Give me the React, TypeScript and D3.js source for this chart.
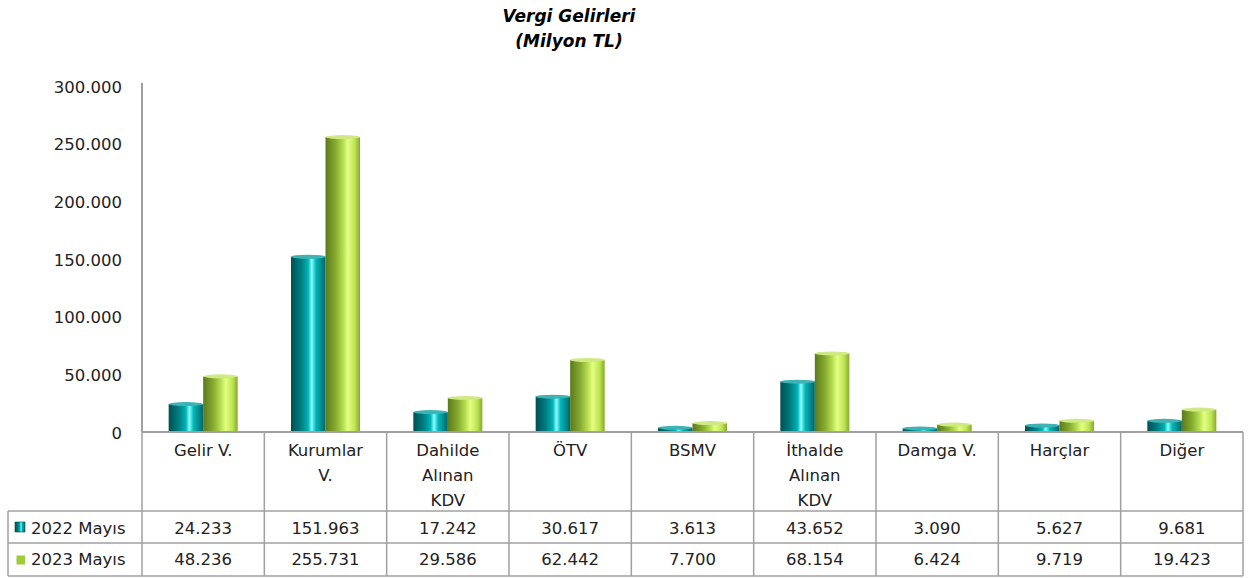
import React from "react";
import * as d3 from "d3";

const categories = [
  ["Gelir V."],
  ["Kurumlar", "V."],
  ["Dahilde", "Alınan", "KDV"],
  ["ÖTV"],
  ["BSMV"],
  ["İthalde", "Alınan", "KDV"],
  ["Damga V."],
  ["Harçlar"],
  ["Diğer"],
];
const series2022 = [24233, 151963, 17242, 30617, 3613, 43652, 3090, 5627, 9681];
const series2023 = [48236, 255731, 29586, 62442, 7700, 68154, 6424, 9719, 19423];
const seriesNames = ["2022 Mayıs", "2023 Mayıs"];
const yTicks = [0, 50000, 100000, 150000, 200000, 250000, 300000];

const W = 1248, H = 578;
const plotL = 142, plotR = 1243, plotT = 86, plotB = 432;
const tableL = 8;
const headerB = 511, row1B = 543, row2B = 576;
const FONT = "'DejaVu Sans', 'Noto Sans', sans-serif";
const FS = 16.5;

const fmt = (v: number) => d3.format(",")(v).replace(/,/g, ".");

export default function App() {
  const x = d3.scaleBand<number>().domain(d3.range(categories.length)).range([plotL, plotR]).padding(0);
  const y = d3.scaleLinear().domain([0, 300000]).range([plotB, plotT]);
  const bw = 34.5;
  const gap = 0;
  const seriesData = [series2022, series2023];
  const fills = ["url(#gTeal)", "url(#gGreen)"];
  const tops = ["#3fb2b3", "#cfea84"];
  const ry = 2;

  return (
    <svg width={W} height={H} style={{ display: "block", position: "absolute", left: 0, top: 0 }} fontFamily={FONT}>
      <defs>
        <linearGradient id="gTeal" x1="0" x2="1" y1="0" y2="0">
          <stop offset="0%" stopColor="#004f52" />
          <stop offset="30%" stopColor="#007f82" />
          <stop offset="50%" stopColor="#00b4b6" />
          <stop offset="60%" stopColor="#8affff" />
          <stop offset="72%" stopColor="#00b7b9" />
          <stop offset="100%" stopColor="#006567" />
        </linearGradient>
        <linearGradient id="gGreen" x1="0" x2="1" y1="0" y2="0">
          <stop offset="0%" stopColor="#5a7a1c" />
          <stop offset="30%" stopColor="#88ac30" />
          <stop offset="50%" stopColor="#b4dc50" />
          <stop offset="65%" stopColor="#e4ff80" />
          <stop offset="85%" stopColor="#bde455" />
          <stop offset="100%" stopColor="#86aa2e" />
        </linearGradient>
      </defs>
      <rect width={W} height={H} fill="#fff" />
      <text x={569} y={22} textAnchor="middle" fontSize={17} fontWeight="bold" fontStyle="italic" fill="#000">Vergi Gelirleri</text>
      <text x={569} y={47} textAnchor="middle" fontSize={17} fontWeight="bold" fontStyle="italic" fill="#000">(Milyon TL)</text>

      {yTicks.map((t) => (
        <text key={t} x={122} y={y(t) + 6.5} textAnchor="end" fontSize={FS} fill="#222">{fmt(t)}</text>
      ))}

      {seriesData.map((arr, si) =>
        arr.map((v, i) => {
          const cx = (x(i) as number) + x.bandwidth() / 2;
          const bx = si === 0 ? cx - gap - bw : cx + gap;
          const yt = y(v);
          return (
            <g key={`${si}-${i}`}>
              <rect x={bx} y={yt} width={bw} height={plotB - yt} fill={fills[si]} />
              <ellipse cx={bx + bw / 2} cy={yt} rx={bw / 2} ry={ry} fill={tops[si]} />
            </g>
          );
        })
      )}

      <line x1={plotL} x2={plotL} y1={plotT - 3} y2={plotB} stroke="#a0a0a0" strokeWidth={2} />
      <line x1={plotL} x2={plotR} y1={plotB} y2={plotB} stroke="#a0a0a0" strokeWidth={2} />

      {d3.range(categories.length + 1).map((i) => {
        const xx = i === categories.length ? plotR : (x(i) as number);
        return <line key={i} x1={xx} x2={xx} y1={plotB} y2={row2B} stroke="#a0a0a0" strokeWidth={1.5} />;
      })}
      <line x1={tableL} x2={tableL} y1={headerB} y2={row2B} stroke="#a0a0a0" strokeWidth={1.5} />
      {[headerB, row1B, row2B].map((yy) => (
        <line key={yy} x1={tableL} x2={plotR} y1={yy} y2={yy} stroke="#a0a0a0" strokeWidth={1.5} />
      ))}

      {categories.map((lines, i) => {
        const cx = (x(i) as number) + x.bandwidth() / 2;
        return lines.map((ln, j) => (
          <text key={`${i}-${j}`} x={cx} y={456 + j * 25} textAnchor="middle" fontSize={FS} fill="#222">{ln}</text>
        ));
      })}

      {seriesData.map((arr, si) => {
        const rowY = si === 0 ? 534 : 565;
        return (
          <g key={si}>
            {si === 0 ? (
              <rect x={15} y={rowY - 12} width={10} height={10} fill="url(#gTeal)" stroke="#0a4a4a" strokeWidth={0.6} />
            ) : (
              <rect x={16.5} y={rowY - 9.5} width={8.5} height={9} fill="#9ccc3c" />
            )}
            <text x={31} y={rowY} fontSize={FS} fill="#222">{seriesNames[si]}</text>
            {arr.map((v, i) => (
              <text key={i} x={(x(i) as number) + x.bandwidth() / 2} y={rowY} textAnchor="middle" fontSize={FS} fill="#222">{fmt(v)}</text>
            ))}
          </g>
        );
      })}
    </svg>
  );
}
